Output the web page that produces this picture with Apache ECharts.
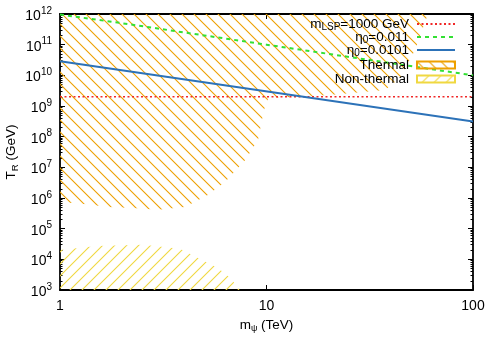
<!DOCTYPE html>
<html>
<head>
<meta charset="utf-8">
<script src="https://cdn.jsdelivr.net/npm/echarts@6/dist/echarts.min.js"></script>
<style>html,body{margin:0;padding:0;background:#fff}#c{width:498px;height:349px}</style>
</head>
<body>
<div id="c"></div>
<script>
// ---- data ----
var xTicks = [1, 10, 100];
var yDecades = [1e3, 1e4, 1e5, 1e6, 1e7, 1e8, 1e9, 1e10, 1e11, 1e12];

var lspM = [1, 100];
var lspT = [2e9, 2e9];

var eta011M = [1, 2, 5, 10, 20, 50, 100];
var eta011T = [9.6e11, 5.0e11, 2.0e11, 1.0e11, 5.0e10, 2.0e10, 1.0e10];

var eta0101M = [1, 100];
var eta0101T = [2.9e10, 3.1e8];

var thermalM = [1, 60.5, 52.4, 44.3, 37.5, 20.3, 10.2, 9.72, 9.1, 7.87, 6.3, 5.2, 4.03, 2.98, 2.26, 1.71, 1.35, 1];
var thermalT = [1e12, 1e12, 6.7e10, 8.2e9, 3.3e9, 2.3e9, 1.8e9, 7.4e8, 7.8e7, 1.7e7, 3.3e6, 1.26e6, 5.1e5, 4.1e5, 4.7e5, 5.1e5, 6.3e5, 7.4e5];

var nonThermalM = [1, 1.51, 2.52, 3.81, 4.87, 5.82, 6.66, 7.45, 1];
var nonThermalT = [2.0e4, 2.7e4, 3.0e4, 2.2e4, 9.5e3, 5.2e3, 2.5e3, 1e3, 1e3];

var names = ['lsp', 'eta011', 'eta0101', 'Thermal', 'Non-thermal'];

// ---- styling ----
var FONT = '"Liberation Sans", Arial, Helvetica, sans-serif';
var ORANGE = '#eea000';
var YELLOW = '#f0d840';

function hatch(color, dir) {
  var s = 12;
  var c = document.createElement('canvas');
  c.width = s; c.height = s;
  var g = c.getContext('2d');
  g.strokeStyle = color; g.lineWidth = 1.1;
  g.beginPath();
  if (dir === 'back') {
    g.moveTo(-2, -2); g.lineTo(s + 2, s + 2);
    g.moveTo(-2, s - 2); g.lineTo(2, s + 2);
    g.moveTo(s - 2, -2); g.lineTo(s + 2, 2);
  } else {
    g.moveTo(s + 2, -2); g.lineTo(-2, s + 2);
    g.moveTo(2, -2); g.lineTo(-2, 2);
    g.moveTo(s + 2, s - 2); g.lineTo(s - 2, s + 2);
  }
  g.stroke();
  return c;
}
var orangePat = {image: hatch(ORANGE, 'back'), repeat: 'repeat'};
var yellowPat = {image: hatch(YELLOW, 'fwd'), repeat: 'repeat'};

var minorVals = [];
yDecades.forEach(function (d, i) {
  if (i === yDecades.length - 1) return;
  for (var k = 2; k <= 9; k++) minorVals.push(k * d);
});

function polySeries(name, ms, ts, pat, border) {
  return {
    name: name, type: 'custom', coordinateSystem: 'cartesian2d',
    clip: true, z: 1, silent: true,
    itemStyle: {color: pat, borderColor: border, borderWidth: 1},
    data: ms.map(function (m, i) { return [m, ts[i]]; }),
    renderItem: function (params, api) {
      if (params.dataIndex !== 0) return null;
      var pts = ms.map(function (m, i) { return api.coord([m, ts[i]]); });
      return {type: 'polygon', shape: {points: pts}, style: {fill: pat, stroke: null}};
    }
  };
}

function pairs(a, b) { return a.map(function (v, i) { return [v, b[i]]; }); }

var rich = {
  a: {fontSize: 13.5, fontFamily: FONT, color: '#000'},
  s: {fontSize: 10, fontFamily: FONT, color: '#000', padding: [7, 0, 0, 0]}
};

var legendLabels = {
  'lsp': '{a|m}{s|LSP}{a|=1000 GeV}',
  'eta011': '{a|η}{s|0}{a|=0.011}',
  'eta0101': '{a|η}{s|0}{a|=0.0101}',
  'Thermal': '{a|Thermal}',
  'Non-thermal': '{a|Non-thermal}'
};
var rowCenters = [25, 38, 51, 66, 80];
var legends = names.map(function (n, i) {
  var box = i >= 3;
  var h = box ? 7 : 14;
  var item = {name: n};
  if (box) { item.icon = 'rect'; } else { item.itemStyle = {opacity: 0, color: 'rgba(0,0,0,0)', borderWidth: 0}; }
  return {
    data: [item],
    right: 42, top: rowCenters[i] - 8, padding: 0, itemGap: 0,
    orient: 'horizontal', align: 'right', selectedMode: false,
    itemWidth: 38, itemHeight: h,
    formatter: function (name) { return legendLabels[name]; },
    textStyle: {rich: rich, fontSize: 13.5, fontFamily: FONT, color: '#000', width: 120, align: 'right', padding: [0, 3, 0, 0]}
  };
});

var axisLineStyle = {color: '#000', width: 1.8};

var option = {
  animation: false,
  backgroundColor: '#fff',
  textStyle: {fontFamily: FONT},
  legend: legends,
  grid: {left: 60, right: 25, top: 14, bottom: 59, containLabel: false, outerBoundsMode: 'none'},
  xAxis: [
    {
      type: 'log', logBase: 10, min: 1, max: 100, position: 'bottom',
      name: '{a|m}{s|ψ}{a| (TeV)}', nameLocation: 'middle', nameGap: 27, nameMoveOverlap: false,
      nameTextStyle: {rich: {a: {fontSize: 13.5, fontFamily: FONT, color: '#000'}, s: {fontSize: 9, fontFamily: FONT, color: '#000', padding: [7, 0, 0, 0]}}},
      axisLine: {show: true, lineStyle: axisLineStyle},
      axisTick: {show: true, inside: true, length: 5, customValues: xTicks, lineStyle: {color: '#000'}},
      axisLabel: {customValues: xTicks, fontSize: 14, fontFamily: FONT, color: '#000', margin: 9},
      splitLine: {show: false}, minorTick: {show: false}
    },
    {
      type: 'log', logBase: 10, min: 1, max: 100, position: 'top',
      axisLine: {show: true, lineStyle: axisLineStyle},
      axisTick: {show: true, inside: true, length: 5, customValues: xTicks, lineStyle: {color: '#000'}},
      axisLabel: {show: false}, splitLine: {show: false}
    }
  ],
  yAxis: [
    {
      type: 'log', logBase: 10, min: 1e3, max: 1e12, position: 'left',
      name: '{a|T}{s|R}{a| (GeV)}', nameLocation: 'middle', nameGap: 40, nameMoveOverlap: false,
      nameTextStyle: {rich: {a: {fontSize: 13.5, fontFamily: FONT, color: '#000'}, s: {fontSize: 9.5, fontFamily: FONT, color: '#000', padding: [7, 0, 0, 0]}}},
      axisLine: {show: true, lineStyle: axisLineStyle},
      axisTick: {show: true, inside: true, length: 5, customValues: yDecades, lineStyle: {color: '#000'}},
      axisLabel: {
        customValues: yDecades, margin: 8, color: '#000', align: 'right',
        formatter: function (v) { return '{b|10}{e|' + Math.round(Math.log10(v)) + '}'; },
        rich: {
          b: {fontSize: 14, fontFamily: FONT, color: '#000', padding: [4, 0, 0, 0]},
          e: {fontSize: 10, fontFamily: FONT, color: '#000', padding: [0, 0, 6, 0]}
        }
      },
      splitLine: {show: false}
    },
    {
      type: 'log', logBase: 10, min: 1e3, max: 1e12, position: 'right',
      axisLine: {show: true, lineStyle: axisLineStyle},
      axisTick: {show: true, inside: true, length: 5, customValues: yDecades, lineStyle: {color: '#000'}},
      axisLabel: {show: false}, splitLine: {show: false}
    },
    {
      type: 'log', logBase: 10, min: 1e3, max: 1e12, position: 'left',
      axisLine: {show: false},
      axisTick: {show: true, inside: true, length: 2.5, customValues: minorVals, lineStyle: {color: '#000'}},
      axisLabel: {show: false}, splitLine: {show: false}
    },
    {
      type: 'log', logBase: 10, min: 1e3, max: 1e12, position: 'right',
      axisLine: {show: false},
      axisTick: {show: true, inside: true, length: 2.5, customValues: minorVals, lineStyle: {color: '#000'}},
      axisLabel: {show: false}, splitLine: {show: false}
    }
  ],
  series: [
    polySeries('Thermal', thermalM, thermalT, orangePat, ORANGE),
    polySeries('Non-thermal', nonThermalM, nonThermalT, yellowPat, YELLOW),
    {
      name: 'lsp', type: 'line', data: pairs(lspM, lspT), symbol: 'none', z: 3,
      lineStyle: {color: '#f02828', width: 1.6, type: [2, 2.5]},
      itemStyle: {color: '#f02828'}
    },
    {
      name: 'eta011', type: 'line', data: pairs(eta011M, eta011T), symbol: 'none', z: 3,
      lineStyle: {color: '#33e033', width: 2, type: [4, 4]},
      itemStyle: {color: '#33e033'}
    },
    {
      name: 'eta0101', type: 'line', data: pairs(eta0101M, eta0101T), symbol: 'none', z: 3,
      lineStyle: {color: '#2c72b8', width: 2},
      itemStyle: {color: '#2c72b8'}
    }
  ]
};

var chart = echarts.init(document.getElementById('c'), null, {renderer: 'canvas'});
chart.setOption(option);
</script>
</body>
</html>
